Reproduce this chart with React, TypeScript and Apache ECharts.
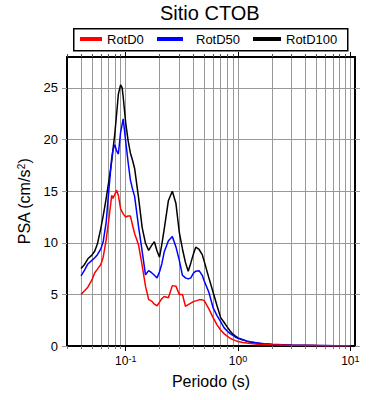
import React, { useEffect, useRef } from "react";
import * as echarts from "echarts";

// Periods (s)
const periods = [
  0.04, 0.043, 0.046, 0.05, 0.053, 0.056, 0.06, 0.063, 0.067, 0.071, 0.075, 0.077, 0.08, 0.083, 0.086,
  0.09, 0.093, 0.095, 0.1, 0.105, 0.11, 0.115, 0.12, 0.13, 0.14, 0.15, 0.16, 0.17, 0.18, 0.19, 0.2,
  0.21, 0.22, 0.24, 0.26, 0.28, 0.3, 0.32, 0.34, 0.36, 0.38, 0.4, 0.42, 0.45, 0.48, 0.5, 0.55, 0.6,
  0.65, 0.7, 0.75, 0.8, 0.85, 0.9, 0.95, 1.0, 1.1, 1.2, 1.3, 1.5, 1.7, 2.0, 2.5, 3.0, 4.0, 5.0, 6.0,
  7.5, 10.0,
];

const rotD0 = [
  5.0, 5.35, 5.7, 6.4, 7.1, 7.45, 7.9, 8.6, 10.3, 12.4, 14.6, 14.3, 14.7, 15.1, 14.6,
  13.3, 13.0, 12.8, 12.5, 12.6, 12.6, 11.7, 10.9, 9.8, 7.8, 5.8, 4.5, 4.35, 4.05, 3.9, 4.25,
  4.6, 4.8, 4.68, 5.85, 5.8, 5.0, 5.0, 3.85, 4.0, 4.15, 4.3, 4.37, 4.47, 4.47, 4.4, 3.6, 2.75,
  2.05, 1.55, 1.2, 0.95, 0.75, 0.62, 0.52, 0.43, 0.33, 0.28, 0.24, 0.18, 0.15, 0.12, 0.09, 0.07, 0.05, 0.04, 0.03,
  0.025, 0.018,
];

const rotD50 = [
  6.8, 7.35, 7.95, 8.3, 8.55, 8.85, 9.4, 10.1, 12.0, 15.3, 18.2, 19.0, 19.5, 18.9, 18.6,
  20.7, 21.5, 22.0, 19.8, 17.8, 16.1, 15.2, 14.5, 11.6, 9.2, 6.9, 7.3, 7.1, 6.85, 6.6, 7.2,
  8.0, 9.1, 10.2, 10.6, 9.6, 8.3, 6.85, 6.6, 6.5, 6.6, 7.05, 7.25, 7.3, 6.85, 6.3, 5.2, 3.7,
  2.95, 2.35, 1.78, 1.45, 1.2, 1.02, 0.85, 0.74, 0.6, 0.47, 0.39, 0.3, 0.22, 0.16, 0.12, 0.09, 0.065, 0.05, 0.04,
  0.03, 0.02,
];

const rotD100 = [
  7.5, 7.9, 8.45, 8.8, 9.2, 9.9, 11.4, 12.6, 14.3, 16.1, 17.9, 19.0, 20.6, 22.5, 24.4,
  25.3, 25.0, 24.1, 21.6, 19.9, 18.7, 18.0, 17.2, 14.4, 11.5, 9.95, 9.26, 9.75, 10.1, 9.2, 8.6,
  9.9, 11.3, 14.1, 15.0, 13.8, 11.0, 9.4, 8.1, 7.25, 8.05, 8.9, 9.57, 9.35, 8.85, 8.2, 6.6, 5.2,
  3.9, 2.75, 2.3, 1.85, 1.45, 1.15, 0.95, 0.79, 0.6, 0.47, 0.38, 0.27, 0.19, 0.14, 0.1, 0.08, 0.06, 0.045, 0.035,
  0.028, 0.02,
];

const seriesNames = ["RotD0", "RotD50", "RotD100"];
const seriesColors = ["#ff0000", "#0000ff", "#000000"];

const yTicks = [0, 5, 10, 15, 20, 25];
const decades = [0.01, 0.1, 1, 10];
const minorSteps = [2, 3, 4, 5, 6, 7, 8, 9];

const X_MIN = 0.03;
const X_MAX = 11;
const Y_MIN = 0;
const Y_MAX = 28;

const FONT = "'Liberation Sans', Arial, Helvetica, sans-serif";

export default function App() {
  const ref = useRef<HTMLDivElement>(null);

  useEffect(() => {
    if (!ref.current) return;
    const chart = echarts.init(ref.current, null, { renderer: "svg" });

    const lmin = Math.log10(X_MIN);
    const lmax = Math.log10(X_MAX);
    const decadeLogs = decades.map((d) => Math.round(Math.log10(d)));
    const allTickLogs: number[] = [];
    decades.forEach((d) => {
      allTickLogs.push(Math.log10(d));
      minorSteps.forEach((m) => allTickLogs.push(Math.log10(d * m)));
    });
    const inRange = (v: number) => v >= lmin - 1e-9 && v <= lmax + 1e-9;
    const minorLogs = allTickLogs.filter(inRange);
    const majorLogs = decadeLogs.filter(inRange);

    const toData = (vals: number[]) => periods.map((p, i) => [Math.log10(p), vals[i]]);
    const allValues = [rotD0, rotD50, rotD100];

    const baseX = {
      type: "value",
      min: lmin,
      max: lmax,
      axisLabel: { show: false },
      splitLine: { show: false },
    };

    const option: any = {
      animation: false,
      backgroundColor: "#ffffff",
      textStyle: { fontFamily: FONT },
      title: {
        text: "Sitio CTOB",
        left: 160,
        top: 3,
        padding: 0,
        textStyle: { fontSize: 20, fontWeight: "normal", color: "#000", fontFamily: FONT },
      },
      graphic: [
        {
          type: "rect",
          left: 73,
          top: 28,
          shape: { width: 274, height: 22 },
          style: { fill: "#fff", stroke: "#000", lineWidth: 1.5 },
          z: -1,
        },
      ],
      legend: [
        { left: 80, w: 22, pad: 0 },
        { left: 157, w: 26, pad: 8 },
        { left: 253, w: 28, pad: 0 },
      ].map((l, i) => ({
        data: [seriesNames[i]],
        left: l.left,
        top: 32.5,
        padding: 0,
        icon: "rect",
        itemWidth: l.w,
        itemHeight: 4,
        textStyle: { fontSize: 13, color: "#000", fontFamily: FONT, padding: [0, 0, 0, l.pad] },
      })),
      grid: { left: 67, right: 35, top: 57, bottom: 54, containLabel: false, outerBoundsMode: "none" },
      xAxis: [
        {
          ...baseX,
          position: "bottom",
          axisLine: { show: true, onZero: false, lineStyle: { color: "#000", width: 2 } },
          axisTick: { show: true, inside: false, length: 3, customValues: minorLogs, lineStyle: { color: "#777", width: 1 } },
          axisLabel: {
            show: true,
            customValues: majorLogs,
            margin: 8,
            formatter: (v: number) => "{b|10}{s|" + String(Math.round(v)) + "}",
            rich: {
              b: { fontSize: 12, color: "#000", fontFamily: FONT, lineHeight: 14 },
              s: { fontSize: 9, color: "#000", fontFamily: FONT, verticalAlign: "top", lineHeight: 10 },
            },
          },
          splitLine: { show: true, lineStyle: { color: "#999", width: 1 } },
          name: "Periodo (s)",
          nameLocation: "middle",
          nameGap: 27,
          nameTextStyle: { fontSize: 16, color: "#000", fontFamily: FONT },
        },
        {
          ...baseX,
          position: "bottom",
          axisLine: { show: false, onZero: false },
          axisTick: { show: true, inside: false, length: 5, customValues: majorLogs, lineStyle: { color: "#000", width: 1 } },
        },
        {
          ...baseX,
          position: "top",
          axisLine: { show: true, onZero: false, lineStyle: { color: "#000", width: 2 } },
          axisTick: { show: true, inside: false, length: 3, customValues: minorLogs, lineStyle: { color: "#555", width: 1 } },
        },
        {
          ...baseX,
          position: "top",
          axisLine: { show: false, onZero: false },
          axisTick: { show: true, inside: false, length: 5, customValues: majorLogs, lineStyle: { color: "#000", width: 1 } },
        },
      ],
      yAxis: [
        {
          type: "value",
          position: "left",
          min: Y_MIN,
          max: Y_MAX,
          axisLine: { show: true, onZero: false, lineStyle: { color: "#000", width: 2 } },
          axisTick: { show: true, inside: false, length: 5, customValues: yTicks, lineStyle: { color: "#999", width: 1 } },
          axisLabel: { show: true, customValues: yTicks, margin: 9, fontSize: 13, color: "#000", fontFamily: FONT },
          splitLine: { show: true, lineStyle: { color: "#999", width: 1 } },
          name: "PSA (cm/s{sup|2})",
          nameLocation: "middle",
          nameGap: 26,
          nameTextStyle: {
            fontSize: 16,
            color: "#000",
            fontFamily: FONT,
            rich: { sup: { fontSize: 10, color: "#000", fontFamily: FONT, verticalAlign: "top" } },
          },
        },
        {
          type: "value",
          position: "right",
          min: Y_MIN,
          max: Y_MAX,
          axisLine: { show: true, onZero: false, lineStyle: { color: "#000", width: 2 } },
          axisTick: { show: true, inside: false, length: 5, customValues: yTicks, lineStyle: { color: "#999", width: 1 } },
          axisLabel: { show: false },
          splitLine: { show: false },
        },
      ],
      series: seriesNames.map((name, i) => ({
        name,
        type: "line",
        xAxisIndex: 0,
        yAxisIndex: 0,
        data: toData(allValues[i]),
        showSymbol: false,
        symbol: "none",
        color: seriesColors[i],
        itemStyle: { color: seriesColors[i] },
        lineStyle: { color: seriesColors[i], width: 1.5 },
        z: 3 + (2 - i),
      })),
    };

    chart.setOption(option);
    return () => chart.dispose();
  }, []);

  return (
    <div
      ref={ref}
      style={{ position: "absolute", left: 0, top: 0, width: 390, height: 400, background: "#fff" }}
    />
  );
}
